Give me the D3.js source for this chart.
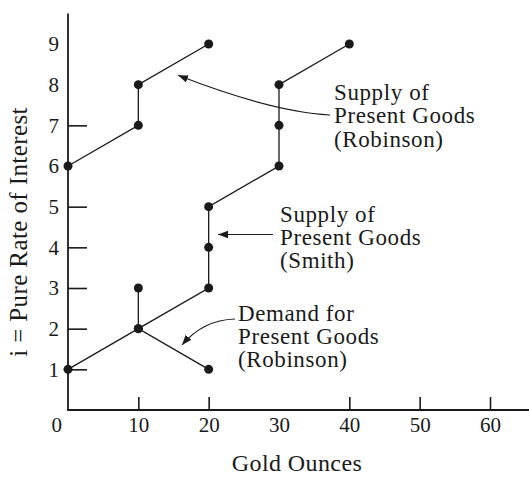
<!DOCTYPE html>
<html>
<head>
<meta charset="utf-8">
<script src="https://cdn.jsdelivr.net/npm/d3@7"></script>
<style>
  html, body { margin: 0; padding: 0; background: #fff; }
  svg { display: block; }
  text { font-family: "Liberation Serif", "Times New Roman", serif; fill: #1a1a1a; }
</style>
</head>
<body>
<svg id="chart" width="529" height="478"></svg>
<script>
// Gold ounces offered / demanded at each pure rate of interest
const smithSupplyOunces    = [0, 10, 20, 20, 20, 30, 30, 30, 40];
const smithSupplyRate      = [1, 2, 3, 4, 5, 6, 7, 8, 9];
const robinsonSupplyOunces = [0, 10, 10, 20];
const robinsonSupplyRate   = [6, 7, 8, 9];
const robinsonDemandOunces = [10, 10, 20];
const robinsonDemandRate   = [3, 2, 1];

// Axis ticks and labels
const rateLabels   = [1, 2, 3, 4, 5, 6, 7, 8, 9];
const rateTicks    = [1, 2, 3, 4, 5, 7];
const ounceLabels  = [10, 20, 30, 40, 50, 60];
const ounceTicks   = [10, 20, 40, 50, 60];

// Annotation texts (lines)
const robinsonSupplyNote = ["Supply of", "Present Goods", "(Robinson)"];
const smithSupplyNote    = ["Supply of", "Present Goods", "(Smith)"];
const robinsonDemandNote = ["Demand for", "Present Goods", "(Robinson)"];

const svg = d3.select("#chart");
const ink = "#1a1a1a";

const x = d3.scaleLinear().domain([0, 60]).range([68, 490]);
const y = d3.scaleLinear().domain([0, 9]).range([410, 44]);
const xEnd = 65.6, yTop = 9.75;

// arrowhead
svg.append("defs").append("marker")
  .attr("id", "head")
  .attr("markerUnits", "userSpaceOnUse")
  .attr("markerWidth", 11).attr("markerHeight", 8)
  .attr("refX", 10).attr("refY", 3.75)
  .attr("orient", "auto")
  .append("path")
  .attr("d", "M0,0 L10,3.75 L0,7.5 Z")
  .attr("fill", ink);

// axis lines
svg.append("line")
  .attr("x1", x(0)).attr("x2", x(0))
  .attr("y1", y(0)).attr("y2", y(yTop))
  .attr("stroke", ink).attr("stroke-width", 1.8);
svg.append("line")
  .attr("x1", x(0) - 0.9).attr("x2", x(xEnd))
  .attr("y1", y(0)).attr("y2", y(0))
  .attr("stroke", ink).attr("stroke-width", 1.8);

// y axis: inward tick marks and labels
const yTickAxis = svg.append("g")
  .attr("transform", `translate(${x(0)},0)`)
  .call(d3.axisLeft(y).tickValues(rateTicks).tickSize(-19).tickFormat(""));
const yLabelAxis = svg.append("g")
  .attr("transform", `translate(${x(0)},0)`)
  .call(d3.axisLeft(y).tickValues(rateLabels).tickSize(0).tickPadding(9));

// x axis: upward tick marks and labels
const xTickAxis = svg.append("g")
  .attr("transform", `translate(0,${y(0)})`)
  .call(d3.axisBottom(x).tickValues(ounceTicks).tickSize(-13).tickFormat(""));
const xLabelAxis = svg.append("g")
  .attr("transform", `translate(0,${y(0)})`)
  .call(d3.axisBottom(x).tickValues(ounceLabels).tickSize(0).tickPadding(7));

[yTickAxis, yLabelAxis, xTickAxis, xLabelAxis].forEach(g => {
  g.select(".domain").remove();
  g.selectAll(".tick line").attr("stroke", ink).attr("stroke-width", 1.6);
  g.selectAll(".tick text")
    .attr("fill", ink)
    .style("font-family", '"Liberation Serif", "Times New Roman", serif')
    .style("font-size", "21px");
});

// origin label
svg.append("text")
  .attr("x", x(0) - 6).attr("y", y(0) + 7)
  .attr("dy", "0.71em")
  .attr("text-anchor", "end")
  .style("font-size", "21px")
  .text("0");

// axis titles
svg.append("text")
  .attr("x", 297).attr("y", 471)
  .attr("text-anchor", "middle")
  .style("font-size", "24px")
  .style("letter-spacing", "0.4px")
  .text("Gold Ounces");
svg.append("text")
  .attr("transform", "translate(27,232) rotate(-90)")
  .attr("text-anchor", "middle")
  .style("font-size", "25px")
  .style("letter-spacing", "0.4px")
  .text("i = Pure Rate of Interest");

// schedules
const lineGen = d3.line().x(d => x(d[0])).y(d => y(d[1]));
const schedules = [
  d3.zip(robinsonSupplyOunces, robinsonSupplyRate),
  d3.zip(smithSupplyOunces, smithSupplyRate),
  d3.zip(robinsonDemandOunces, robinsonDemandRate)
];
schedules.forEach(pts => {
  svg.append("path")
    .attr("d", lineGen(pts))
    .attr("fill", "none")
    .attr("stroke", ink)
    .attr("stroke-width", 1.3);
  svg.selectAll(null).data(pts).enter().append("circle")
    .attr("cx", d => x(d[0])).attr("cy", d => y(d[1]))
    .attr("r", 4.5)
    .attr("fill", ink);
});

// annotations, placed in data units
function note(lines, ox, oy) {
  const t = svg.append("text")
    .attr("x", x(ox)).attr("y", y(oy))
    .style("font-size", "23px")
    .style("letter-spacing", "0.6px");
  lines.forEach((s, i) => {
    t.append("tspan")
      .attr("x", x(ox))
      .attr("dy", i === 0 ? 0 : 23.3)
      .text(s);
  });
}
function leader(pts) {
  const p = d3.path();
  p.moveTo(x(pts[0][0]), y(pts[0][1]));
  if (pts.length === 3) {
    p.quadraticCurveTo(x(pts[1][0]), y(pts[1][1]), x(pts[2][0]), y(pts[2][1]));
  } else {
    p.lineTo(x(pts[1][0]), y(pts[1][1]));
  }
  svg.append("path")
    .attr("d", p.toString())
    .attr("fill", "none")
    .attr("stroke", ink)
    .attr("stroke-width", 1.1)
    .attr("marker-end", "url(#head)");
}

note(robinsonSupplyNote, 37.82, 7.623);
leader([[37.25, 7.254], [29.0, 7.33], [15.64, 8.23]]);

note(smithSupplyNote, 30.14, 4.635);
leader([[29.15, 4.316], [21.33, 4.316]]);

note(robinsonDemandNote, 24.17, 2.196);
leader([[23.74, 2.238], [19.19, 2.213], [16.21, 1.598]]);
</script>
</body>
</html>
